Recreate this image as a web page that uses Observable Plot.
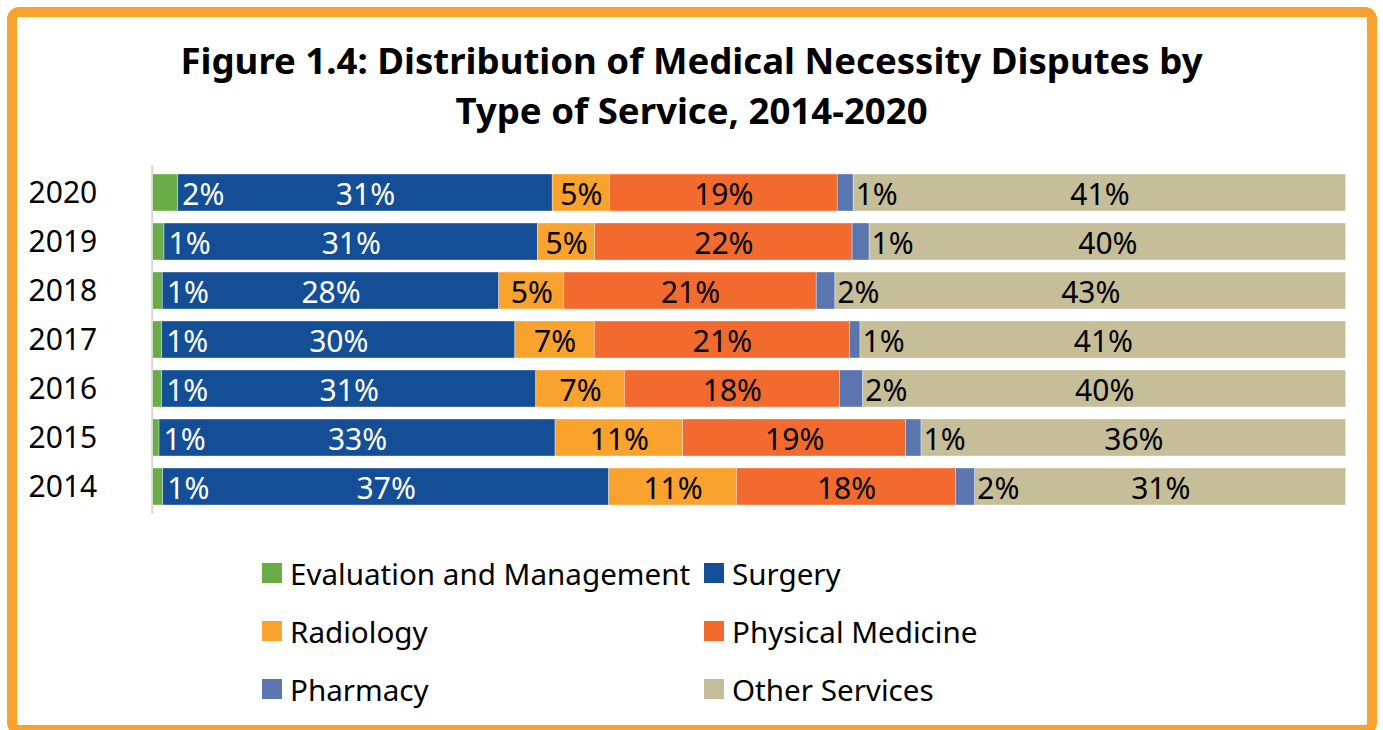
<!DOCTYPE html>
<html>
<head>
<meta charset="utf-8">
<script src="https://cdn.jsdelivr.net/npm/d3@7"></script>
<script src="https://cdn.jsdelivr.net/npm/@observablehq/plot@0.6"></script>
<style>
  html, body { margin: 0; padding: 0; background: #fff; }
  body { width: 1383px; height: 730px; position: relative; overflow: hidden; font-family: "Noto Sans", sans-serif; }
  #frame { position: absolute; left: 7px; top: 7px; width: 1370px; height: 728px; box-sizing: border-box; border: 10px solid #F8A22D; border-radius: 12px; }
  #title { position: absolute; left: 0; top: 35px; width: 1383px; text-align: center; font-weight: bold; font-size: 36.6px; line-height: 50px; color: #000; }
  #chart { position: absolute; left: 0; top: 0; }
  .lg { position: absolute; display: flex; align-items: center; font-size: 29.6px; color: #000; white-space: nowrap; height: 40px; }
  .lg span.sw { display: inline-block; width: 20px; height: 20px; margin-right: 8px; }
</style>
</head>
<body>
<div id="frame"></div>
<div id="title">Figure 1.4: Distribution of Medical Necessity Disputes by<br>Type of Service, 2014-2020</div>
<div id="chart"></div>
<div id="legend"></div>
<script>
const years = ["2020", "2019", "2018", "2017", "2016", "2015", "2014"];
const types = ["Evaluation and Management", "Surgery", "Radiology", "Physical Medicine", "Pharmacy", "Other Services"];
const colors = ["#6AAD46", "#144E96", "#F9A22D", "#F26A2D", "#5B75AF", "#C5BE99"];

// percent shares per year (same order as years)
const evalMgmt = [2.1, 0.95, 0.8, 0.75, 0.75, 0.53, 0.84];
const surgery = [31.4, 31.35, 28.2, 29.6, 31.3, 33.2, 37.4];
const radiology = [4.8, 4.8, 5.45, 6.65, 7.4, 10.7, 10.7];
const physMed = [19.1, 21.6, 21.15, 21.4, 18.0, 18.7, 18.4];
const pharmacy = [1.34, 1.43, 1.57, 0.87, 1.95, 1.28, 1.6];
const other = [41.3, 40.0, 42.8, 40.7, 40.4, 35.6, 31.1];

const series = [evalMgmt, surgery, radiology, physMed, pharmacy, other];
const data = [];
years.forEach((year, i) => {
  types.forEach((type, j) => {
    data.push({year, type, value: series[j][i]});
  });
});

const fmt = v => Math.round(v) + "%";
const centerBlack = ["Radiology", "Physical Medicine", "Other Services"];
const stackOpts = {x: "value", y: "year", z: "type", offset: "normalize"};

const chart = Plot.plot({
  width: 1383,
  height: 530,
  marginLeft: 152.7,
  marginRight: 37.3,
  marginTop: 165,
  marginBottom: 16,
  style: {fontFamily: "Noto Sans", background: "transparent", color: "#000"},
  x: {domain: [0, 1], axis: null},
  y: {type: "band", domain: years, paddingInner: 0.24, paddingOuter: 0.12, axis: null},
  color: {domain: types, range: colors},
  marks: [
    Plot.ruleX([0], {stroke: "#d6d6d6", strokeWidth: 2, dx: -1}),
    Plot.barX(data, Plot.stackX({...stackOpts, fill: "type", stroke: "#ffffff", strokeWidth: 0.6, strokeOpacity: 0.6})),
    Plot.text(data, Plot.stackX({...stackOpts, text: d => d.type === "Surgery" ? fmt(d.value) : "", fill: "white", fontSize: 30, dy: 2})),
    Plot.text(data, Plot.stackX({...stackOpts, text: d => centerBlack.includes(d.type) ? fmt(d.value) : "", fill: "black", fontSize: 30, dy: 2})),
    Plot.text(data, Plot.stackX2({...stackOpts, text: d => d.type === "Evaluation and Management" ? fmt(d.value) : "", fill: "white", fontSize: 30, textAnchor: "start", dx: 4, dy: 2})),
    Plot.text(data, Plot.stackX2({...stackOpts, text: d => d.type === "Pharmacy" ? fmt(d.value) : "", fill: "black", fontSize: 30, textAnchor: "start", dx: 2, dy: 2})),
    Plot.axisY({tickSize: 0, tickPadding: 56, fontSize: 30, fill: "black", label: null})
  ]
});
document.getElementById("chart").appendChild(chart);

// legend
const legendPos = [
  [262, 553], [704, 553],
  [262, 611], [704, 611],
  [262, 669], [704, 669]
];
const legend = document.getElementById("legend");
types.forEach((t, i) => {
  const el = document.createElement("div");
  el.className = "lg";
  el.style.left = legendPos[i][0] + "px";
  el.style.top = legendPos[i][1] + "px";
  const sw = document.createElement("span");
  sw.className = "sw";
  sw.style.background = colors[i];
  el.appendChild(sw);
  el.appendChild(document.createTextNode(t));
  legend.appendChild(el);
});
</script>
</body>
</html>
